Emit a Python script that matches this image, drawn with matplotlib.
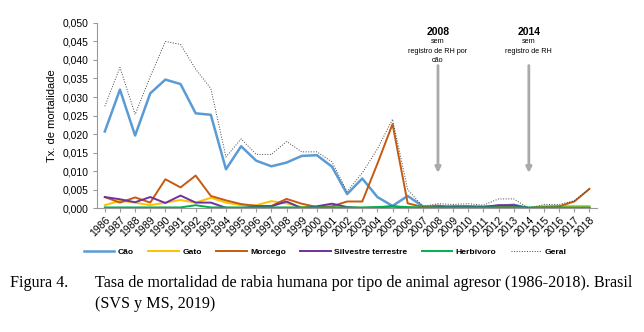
import numpy as np
import matplotlib as mpl
import matplotlib.pyplot as plt

mpl.rcParams['font.family'] = 'Liberation Sans'

# -- data --
years = list(range(1986, 2019))
cao = [0.0207, 0.0320, 0.0196, 0.0310, 0.0347, 0.0335, 0.0256, 0.0252, 0.0105, 0.0167,
       0.0128, 0.0113, 0.0123, 0.0141, 0.0143, 0.0112, 0.0038, 0.0080, 0.0030, 0.0006,
       0.0033, 0.0005, 0.0001, 0.0005, 0.0005, 0.0004, 0.0006, 0.0009, 0.0000, 0.0001,
       0.0001, 0.0001, 0.0001]
gato = [0.0008, 0.0020, 0.0015, 0.0008, 0.0015, 0.0022, 0.0015, 0.0028, 0.0015, 0.0008,
        0.0008, 0.0019, 0.0013, 0.0003, 0.0003, 0.0003, 0.0001, 0.0001, 0.0001, 0.0001,
        0.0001, 0.0001, 0.0001, 0.0001, 0.0001, 0.0001, 0.0001, 0.0001, 0.0000, 0.0006,
        0.0006, 0.0006, 0.0006]
morcego = [0.0030, 0.0015, 0.0029, 0.0015, 0.0078, 0.0056, 0.0088, 0.0033, 0.0021, 0.0011,
           0.0006, 0.0006, 0.0025, 0.0012, 0.0003, 0.0005, 0.0018, 0.0018, 0.0120, 0.0227,
           0.0013, 0.0003, 0.0007, 0.0003, 0.0003, 0.0003, 0.0005, 0.0003, 0.0000, 0.0003,
           0.0005, 0.0018, 0.0052]
silvestre = [0.0030, 0.0024, 0.0016, 0.0030, 0.0014, 0.0034, 0.0015, 0.0015, 0.0001, 0.0000,
             0.0005, 0.0005, 0.0018, 0.0000, 0.0005, 0.0012, 0.0003, 0.0000, 0.0002, 0.0005,
             0.0001, 0.0000, 0.0003, 0.0004, 0.0004, 0.0003, 0.0008, 0.0008, 0.0000, 0.0000,
             0.0000, 0.0000, 0.0000]
herbivoro = [0.0002, 0.0002, 0.0002, 0.0002, 0.0002, 0.0002, 0.0008, 0.0002, 0.0002, 0.0002,
             0.0002, 0.0002, 0.0002, 0.0002, 0.0002, 0.0002, 0.0002, 0.0002, 0.0003, 0.0005,
             0.0003, 0.0002, 0.0002, 0.0002, 0.0002, 0.0002, 0.0002, 0.0002, 0.0002, 0.0002,
             0.0002, 0.0002, 0.0002]
geral = [0.0275, 0.0380, 0.0253, 0.0355, 0.0450, 0.0442, 0.0375, 0.0323, 0.0138, 0.0187,
         0.0145, 0.0145, 0.0180, 0.0152, 0.0152, 0.0125, 0.0045, 0.0095, 0.0160, 0.0240,
         0.0050, 0.0005, 0.0012, 0.0010, 0.0012, 0.0008, 0.0025, 0.0025, 0.0000, 0.0010,
         0.0010, 0.0020, 0.0052]
yticks = [0.0, 0.005, 0.010, 0.015, 0.020, 0.025, 0.030, 0.035, 0.040, 0.045, 0.050]
ytick_labels = ['0,000', '0,005', '0,010', '0,015', '0,020', '0,025', '0,030', '0,035',
                '0,040', '0,045', '0,050']
notes = [(2008, '2008', 'sem\nregistro de RH por\ncão'),
         (2014, '2014', 'sem\nregistro de RH')]

fig = plt.figure(figsize=(6.44, 3.32), dpi=100)
sub = fig.add_axes([0.151, 0.373, 0.776, 0.558])

series = [(cao, 'Cão', '#5B9BD5', 1.8, '-'),
          (gato, 'Gato', '#FFC000', 1.4, '-'),
          (morcego, 'Morcego', '#C55A11', 1.4, '-'),
          (silvestre, 'Silvestre terrestre', '#7030A0', 1.4, '-'),
          (herbivoro, 'Herbívoro', '#00B050', 1.4, '-'),
          (geral, 'Geral', '#444444', 0.7, ':')]
for vals, lab, col, lw, ls in series:
    sub.plot(years, vals, color=col, lw=lw, ls=ls, label=lab)

sub.set_xlim(years[0] - 0.5, years[-1] + 0.5)
sub.set_ylim(0, 0.05)
sub.set_xticks(years)
sub.set_xticklabels([str(y) for y in years], rotation=45, fontsize=7.5, ha='right',
                    rotation_mode='anchor')
sub.set_yticks(yticks)
sub.set_yticklabels(ytick_labels, fontsize=7.5)
sub.tick_params(axis='x', length=3, color='#999999', pad=2)
sub.tick_params(axis='y', length=3, color='#999999')
for s in ['top', 'right']:
    sub.spines[s].set_visible(False)
for s in ['left', 'bottom']:
    sub.spines[s].set_color('#999999')
sub.set_ylabel('Tx. de mortalidade', fontsize=8, labelpad=4)

for yr, head, txt in notes:
    sub.annotate('', xy=(yr, 0.0095), xytext=(yr, 0.0385),
                 arrowprops=dict(arrowstyle='-|>', color='#AAAAAA', lw=2,
                                 mutation_scale=8, shrinkA=0, shrinkB=0))
for yr, head, txt in notes:
    sub.text(yr, 0.0462, head, ha='center', va='bottom', fontsize=7.5,
             fontweight='bold')
    sub.text(yr, 0.0458, txt, ha='center', va='top', fontsize=5.2,
             linespacing=1.5)

fig.legend(loc='center', bbox_to_anchor=(0.505, 0.241), ncol=6, frameon=False,
           handlelength=3.6, columnspacing=1.7, handletextpad=0.4,
           prop={'size': 6.1, 'weight': 'bold'})

fig.text(0.015, 0.135, 'Figura 4.', fontsize=11.6, family='Liberation Serif')
fig.text(0.1475, 0.135, 'Tasa de mortalidad de rabia humana por tipo de animal agresor '
         '(1986-2018). Brasil', fontsize=11.6, family='Liberation Serif')
fig.text(0.1475, 0.072, '(SVS y MS, 2019)', fontsize=11.6, family='Liberation Serif')

fig.savefig('out.png', dpi=100)
plt.close()
